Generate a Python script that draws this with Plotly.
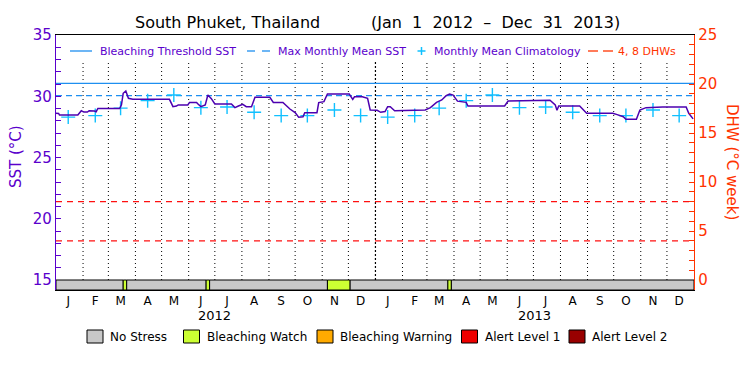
import plotly.graph_objects as go

# ---------------- data ----------------
sst_dates = ['2012-01-01', '2012-01-04', '2012-01-05', '2012-01-26', '2012-01-30', '2012-02-02', '2012-02-06',
             '2012-02-08', '2012-02-14', '2012-02-16', '2012-02-18', '2012-03-14', '2012-03-16', '2012-03-18',
             '2012-03-21', '2012-03-24', '2012-03-29', '2012-05-10', '2012-05-14', '2012-05-18', '2012-05-20',
             '2012-05-31', '2012-06-02', '2012-06-10', '2012-06-12', '2012-06-15', '2012-06-20', '2012-06-23',
             '2012-06-27', '2012-07-01', '2012-07-20', '2012-07-24', '2012-07-28', '2012-08-02', '2012-08-06',
             '2012-08-12', '2012-08-16', '2012-09-02', '2012-09-06', '2012-09-17', '2012-09-25', '2012-10-01',
             '2012-10-05', '2012-10-10', '2012-10-12', '2012-10-26', '2012-10-28', '2012-11-03', '2012-11-07',
             '2012-12-02', '2012-12-06', '2012-12-08', '2012-12-17', '2012-12-23', '2012-12-26', '2013-01-03',
             '2013-01-07', '2013-01-12', '2013-01-15', '2013-01-18', '2013-01-23', '2013-02-15', '2013-02-27',
             '2013-03-05', '2013-03-12', '2013-03-18', '2013-03-23', '2013-03-27', '2013-03-31', '2013-04-05',
             '2013-04-15', '2013-04-17', '2013-05-29', '2013-06-02', '2013-06-27', '2013-06-28', '2013-07-20',
             '2013-07-26', '2013-07-28', '2013-07-30', '2013-08-23', '2013-08-31', '2013-09-30', '2013-10-05',
             '2013-10-12', '2013-10-15', '2013-10-27', '2013-10-31', '2013-11-07', '2013-11-26', '2013-12-23',
             '2013-12-26', '2013-12-31']
sst_values = [28.61, 28.60, 28.47, 28.47, 28.82, 28.71, 28.71,
              28.82, 28.80, 28.74, 29.01, 29.01, 29.30, 30.24,
              30.43, 29.83, 29.75, 29.75, 29.15, 29.20, 29.29,
              29.29, 29.50, 29.50, 29.34, 29.15, 29.30, 30.10,
              29.80, 29.37, 29.37, 29.07, 29.20, 29.34, 29.15,
              29.15, 29.91, 29.91, 29.50, 29.50, 28.96, 28.66,
              28.28, 28.33, 28.66, 28.66, 29.48, 29.56, 30.18,
              30.18, 29.75, 29.96, 29.96, 29.83, 28.88, 28.85,
              28.69, 28.75, 29.15, 29.15, 28.82, 28.82, 28.88,
              29.07, 29.50, 29.70, 30.05, 30.18, 30.10, 29.60,
              29.50, 29.20, 29.20, 29.61, 29.61, 29.67, 29.67,
              29.30, 28.85, 29.20, 29.20, 28.61, 28.61, 28.50,
              28.33, 28.12, 28.12, 28.88, 29.07, 29.12, 29.12,
              28.61, 28.15]

clim_dates = ['2012-01-15', '2012-02-15', '2012-03-15', '2012-04-15', '2012-05-15', '2012-06-15',
              '2012-07-15', '2012-08-15', '2012-09-15', '2012-10-15', '2012-11-15', '2012-12-15',
              '2013-01-15', '2013-02-15', '2013-03-15', '2013-04-15', '2013-05-15', '2013-06-15',
              '2013-07-15', '2013-08-15', '2013-09-15', '2013-10-15', '2013-11-15', '2013-12-15']
clim_month_values = [28.30, 28.42, 29.03, 29.64, 30.10, 29.07, 29.12, 28.69, 28.42, 28.42, 28.88, 28.42]
clim_values = clim_month_values * 2

mmm = 30.05
bleaching_threshold = 31.05
dhw_levels = [4, 8]

period_start = '2012-01-01'
period_end = '2014-01-01'

stress_start = ['2012-01-01', '2012-03-18', '2012-03-22', '2012-06-21', '2012-06-25',
                '2012-11-07', '2012-12-03', '2013-03-25', '2013-03-29']
stress_end = ['2012-03-18', '2012-03-22', '2012-06-21', '2012-06-25', '2012-11-07',
              '2012-12-03', '2013-03-25', '2013-03-29', '2014-01-01']
stress_level = [0, 1, 0, 1, 0, 1, 0, 1, 0]

stress_names = ['No Stress', 'Bleaching Watch', 'Bleaching Warning', 'Alert Level 1', 'Alert Level 2']
stress_colors = ['#c8c8c8', '#ccff33', '#ffaa00', '#ee0000', '#990000']

month_starts = ['2012-%02d-01' % m for m in range(2, 13)] + ['2013-%02d-01' % m for m in range(2, 13)]
year_start = '2013-01-01'
month_mids = ['2012-%02d-15' % m for m in range(1, 13)] + ['2013-%02d-15' % m for m in range(1, 13)]
month_letters = list('JFMAMJJASOND') * 2
year_labels = ['2012', '2013']
year_mids = ['2012-07-01', '2013-07-02']

sst_ticks = [15, 20, 25, 30, 35]
sst_minor = [v for v in range(15, 36) if v % 5]
dhw_ticks = [0, 5, 10, 15, 20, 25]
dhw_minor = [v for v in range(0, 26) if v % 5]

title_site = 'South Phuket, Thailand'
title_period = '(Jan 1 2012 \u2013 Dec 31 2013)'

# ---------------- styling ----------------
W, H = 750, 375
L, R, T, B = 56, 694, 35, 290
PURPLE = '#5a00cc'
LINE_PURPLE = '#4c00b0'
BLUE = '#1e8ff0'
CYAN = '#10c0ff'
ORANGE = '#ff3300'
RED = '#ff1010'
FONT = 'DejaVu Sans'
GRID_TOP = 32.8


def px(x):
    return (x - L) / (R - L)


def py(y):
    return (B - y) / (B - T)


fig = go.Figure()

fig.add_trace(go.Scatter(x=[period_start, period_end], y=[bleaching_threshold] * 2, mode='lines',
                         line=dict(color=BLUE, width=1.3), hoverinfo='skip'))
fig.add_trace(go.Scatter(x=[period_start, period_end], y=[mmm] * 2, mode='lines',
                         line=dict(color=BLUE, width=1.3, dash='6px,4px'), hoverinfo='skip'))
for lv in dhw_levels:
    fig.add_trace(go.Scatter(x=[period_start, period_end], y=[lv] * 2, mode='lines', yaxis='y2',
                             line=dict(color=RED, width=1.3, dash='6px,5px'), hoverinfo='skip'))
fig.add_trace(go.Scatter(x=clim_dates, y=clim_values, mode='markers',
                         marker=dict(symbol='cross-thin', size=10, line=dict(color=CYAN, width=1.4))))
fig.add_trace(go.Scatter(x=sst_dates, y=sst_values, mode='lines',
                         line=dict(color=LINE_PURPLE, width=1.5)))

shapes = []
# month grid lines
for m in month_starts:
    shapes.append(dict(type='line', xref='x', yref='y', x0=m, x1=m, y0=15, y1=GRID_TOP,
                       line=dict(color='black', width=1, dash='1px,3px'), layer='below'))
# year boundary
shapes.append(dict(type='line', xref='x', yref='y', x0=year_start, x1=year_start, y0=15, y1=GRID_TOP,
                   line=dict(color='black', width=1.2, dash='2px,2px'), layer='below'))
# stress bar
for s, e, lvl in zip(stress_start, stress_end, stress_level):
    shapes.append(dict(type='rect', xref='x', yref='paper', x0=s, x1=e, y0=0, y1=py(280),
                       fillcolor=stress_colors[lvl], line=dict(color='black', width=1), layer='above'))

annotations = []
# title
annotations.append(dict(text=title_site, x=px(133), y=py(23), xref='paper', yref='paper',
                        xanchor='left', yanchor='middle', showarrow=False,
                        font=dict(family=FONT, size=16, color='black')))
annotations.append(dict(text=title_period.replace(' ', '\u00a0\u00a0'), x=px(495.5), y=py(23),
                        xref='paper', yref='paper',
                        xanchor='center', yanchor='middle', showarrow=False,
                        font=dict(family=FONT, size=16, color='black')))
# axis titles
annotations.append(dict(text='SST (\u00b0C)', x=px(16), y=py(157), xref='paper', yref='paper',
                        textangle=-90, showarrow=False, xanchor='center', yanchor='middle',
                        font=dict(family=FONT, size=15, color=PURPLE)))
annotations.append(dict(text='DHW (\u00b0C week)', x=px(732), y=py(162), xref='paper', yref='paper',
                        textangle=90, showarrow=False, xanchor='center', yanchor='middle',
                        font=dict(family=FONT, size=15, color=ORANGE)))
# year labels
for lab, xm in zip(year_labels, year_mids):
    annotations.append(dict(text=lab, x=xm, y=py(315), xref='x', yref='paper', showarrow=False,
                            xanchor='center', yanchor='middle', font=dict(family=FONT, size=13, color='black')))

# top legend
LY = 51
shapes.append(dict(type='line', xref='paper', yref='paper', x0=px(70), x1=px(92), y0=py(LY), y1=py(LY),
                   line=dict(color=BLUE, width=1.3)))
for a, b in [(247, 255), (262, 270)]:
    shapes.append(dict(type='line', xref='paper', yref='paper', x0=px(a), x1=px(b), y0=py(LY), y1=py(LY),
                       line=dict(color=BLUE, width=1.3)))
shapes.append(dict(type='line', xref='paper', yref='paper', x0=px(417.5), x1=px(425.5), y0=py(LY), y1=py(LY),
                   line=dict(color=CYAN, width=1.5)))
shapes.append(dict(type='line', xref='paper', yref='paper', x0=px(421.5), x1=px(421.5), y0=py(LY - 4),
                   y1=py(LY + 4), line=dict(color=CYAN, width=1.5)))
for a, b in [(588, 598), (603, 613)]:
    shapes.append(dict(type='line', xref='paper', yref='paper', x0=px(a), x1=px(b), y0=py(LY), y1=py(LY),
                       line=dict(color=ORANGE, width=1.3)))
for txt, x0, col in [('Bleaching Threshold SST', 97.5, PURPLE), ('Max Monthly Mean SST', 276, PURPLE),
                     ('Monthly Mean Climatology', 432, PURPLE), ('4, 8 DHWs', 616, ORANGE)]:
    annotations.append(dict(text=txt, x=px(x0), y=py(LY), xref='paper', yref='paper', showarrow=False,
                            xanchor='left', yanchor='middle', font=dict(family=FONT, size=11, color=col)))

# bottom legend
box_x = [87, 183.5, 317, 461.5, 569]
BY0, BY1 = 330, 343
for name, col, bx in zip(stress_names, stress_colors, box_x):
    shapes.append(dict(type='rect', xref='paper', yref='paper', x0=px(bx), x1=px(bx + 16), y0=py(BY1), y1=py(BY0),
                       fillcolor=col, line=dict(color='black', width=1)))
    annotations.append(dict(text=name, x=px(bx + 21), y=py((BY0 + BY1) / 2), xref='paper', yref='paper',
                            showarrow=False, xanchor='left', yanchor='middle',
                            font=dict(family=FONT, size=12, color='black')))

fig.update_layout(
    width=W, height=H,
    margin=dict(l=L, r=W - R, t=T, b=H - B, pad=0),
    paper_bgcolor='white', plot_bgcolor='white',
    showlegend=False,
    shapes=shapes, annotations=annotations,
    xaxis=dict(type='date', range=[period_start, period_end], showgrid=False, zeroline=False,
               showline=True, linecolor='black', linewidth=1, mirror=True,
               tickmode='array', tickvals=month_mids, ticktext=month_letters, ticks='',
               tickfont=dict(family=FONT, size=12, color='black')),
    yaxis=dict(range=[14.184, 35], tickmode='array', tickvals=sst_ticks, ticks='inside', ticklen=5,
               tickcolor=PURPLE, showline=True, linecolor=PURPLE, linewidth=1.3, showgrid=False,
               zeroline=False, tickfont=dict(family=FONT, size=15, color=PURPLE),
               minor=dict(tickmode='array', tickvals=sst_minor, ticks='inside', ticklen=5, tickcolor=PURPLE)),
    yaxis2=dict(range=[-1.0204, 25], overlaying='y', side='right', tickmode='array', tickvals=dhw_ticks,
                ticks='inside', ticklen=5, tickcolor=ORANGE, showline=True, linecolor=ORANGE, linewidth=1.3,
                showgrid=False, zeroline=False, tickfont=dict(family=FONT, size=15, color=ORANGE),
                minor=dict(tickmode='array', tickvals=dhw_minor, ticks='inside', ticklen=5, tickcolor=ORANGE)),
)

fig.write_html('out.html', config={'displayModeBar': False},
               post_script="document.body.style.margin='0';document.body.style.padding='0';")
